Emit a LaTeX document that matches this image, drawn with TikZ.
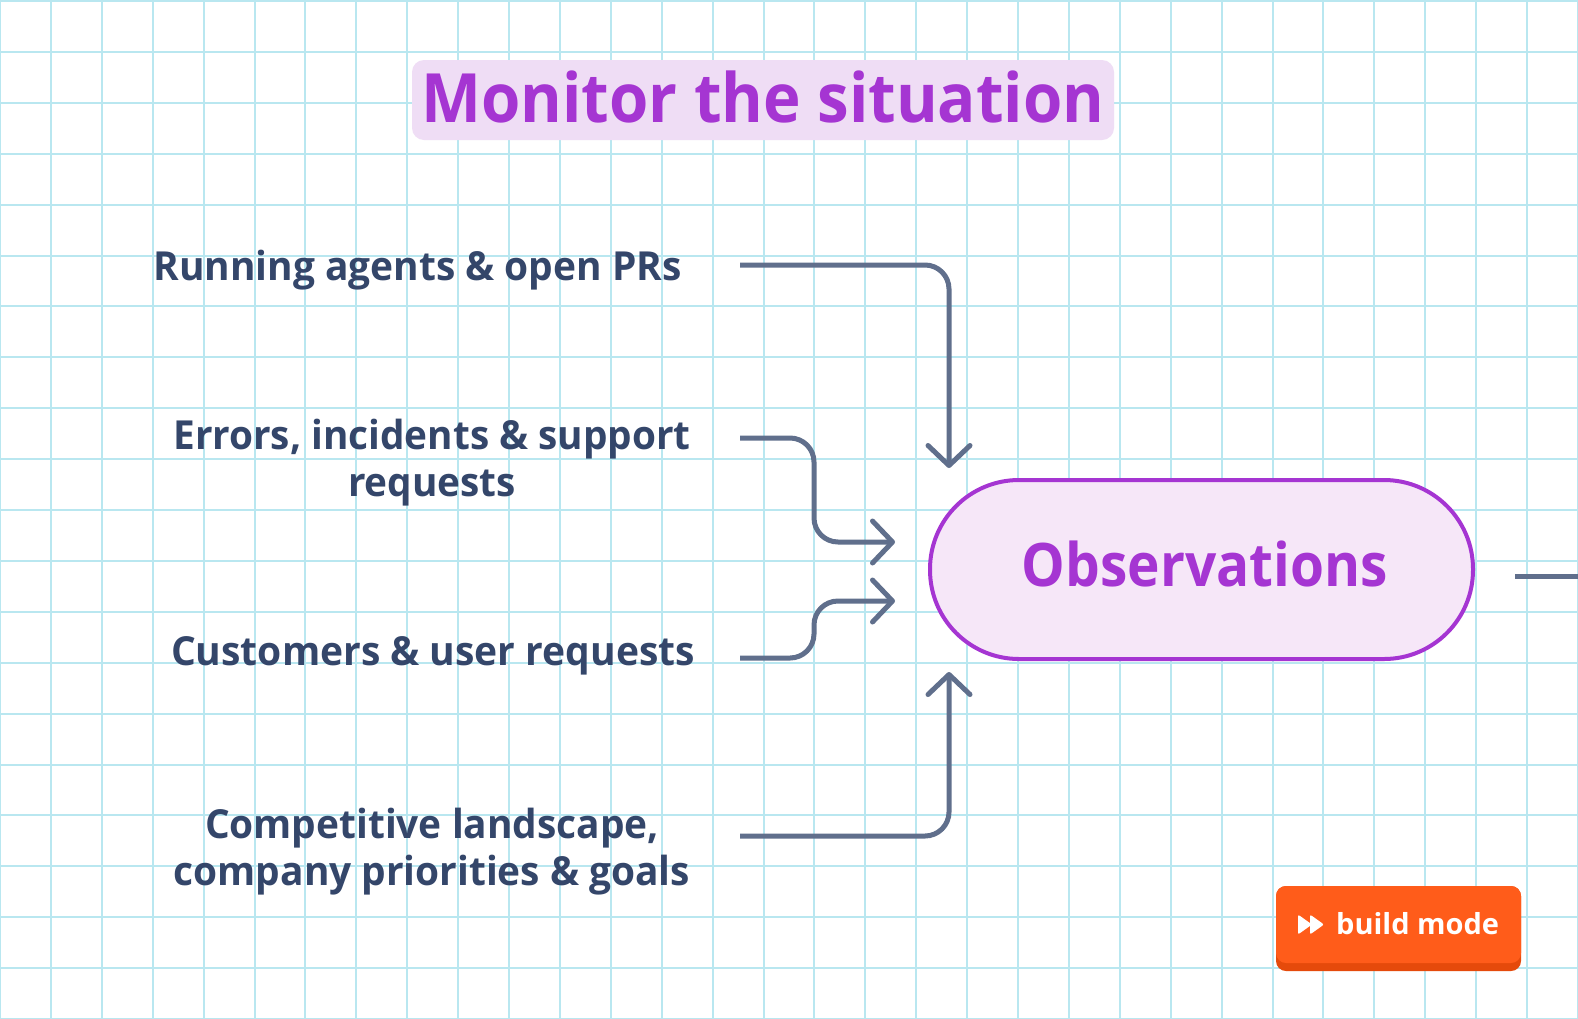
\documentclass[tikz,border=0pt]{standalone}
\usepackage{fontspec}
\usepackage{graphicx}
\usetikzlibrary{arrows.meta}
\IfFontExistsTF{Open Sans SemiBold}
 {\newfontfamily\sbfont{Open Sans SemiBold}}
 {\newfontfamily\sbfontA{Open Sans}\newcommand\sbfont{\sbfontA\bfseries}}
\newfontfamily\btnfont{Open Sans}
\newcommand\hsq[2]{\scalebox{#1}[1]{#2}}
\definecolor{gridc}{HTML}{B9E7F0}
\definecolor{titlefill}{HTML}{EFDDF5}
\definecolor{purp}{HTML}{A535D2}
\definecolor{obsfill}{HTML}{F6E7F8}
\definecolor{conn}{HTML}{606F8C}
\definecolor{labc}{HTML}{34466A}
\definecolor{btn}{HTML}{FF5C1A}
\definecolor{btnsh}{HTML}{E54A0B}
\tikzset{
  lab/.style={text=labc, inner sep=0pt, anchor=base, font=\sbfont\fontsize{40}{47.5}\selectfont},
  conline/.style={draw=conn, line width=5pt, rounded corners=24pt},
  arrowed/.style={conline, -{Straight Barb[length=20pt,width=42pt,line cap=round,line join=round]}},
}
\begin{document}
\begin{tikzpicture}[x=1pt,y=-1pt]
\useasboundingbox (0,0) rectangle (1578,1018);
\fill[white] (0,0) rectangle (1578,1018);
% grid
\foreach \k in {0,...,31}{\draw[gridc, line width=2pt] ({\k*50.903},0) -- ({\k*50.903},1018);}
\foreach \k in {0,...,20}{\draw[gridc, line width=2pt] (0,{1+\k*50.9}) -- (1578,{1+\k*50.9});}
% title
\fill[titlefill, rounded corners=12pt] (412,60) rectangle (1114,140);
\node[text=purp, inner sep=0pt, anchor=base, font=\sbfont\fontsize{68}{70}\selectfont] (title) at (763,122.7) {\hsq{0.935}{Monitor the situation}};
% labels
\node[lab] (l1) at (417.5,280.5) {\hsq{0.972}{Running agents \& open PRs}};
\node[lab] (l2) at (432,449.3) {\hsq{0.968}{\begin{tabular}[t]{@{}c@{}}Errors, incidents \& support\\requests\end{tabular}}};
\node[lab] (l3) at (433,665) {\hsq{0.975}{Customers \& user requests}};
\node[lab] (l4) at (432,838.3) {\hsq{0.971}{\begin{tabular}[t]{@{}c@{}}Competitive landscape,\\company priorities \& goals\end{tabular}}};
% observations
\node[draw=purp, fill=obsfill, line width=4pt, rounded corners=89pt, minimum width=543pt, minimum height=179pt, inner sep=0pt] (obs) at (1201.5,569.5) {};
\node[text=purp, inner sep=0pt, anchor=base, font=\sbfont\fontsize{60}{64}\selectfont] (obst) at (1204.7,586.7) {\hsq{0.916}{Observations}};
% connector coordinates
\coordinate (s1) at (740,265);
\coordinate (s2) at (740,438);
\coordinate (s3) at (740,658);
\coordinate (s4) at (740,836);
\coordinate (t1) at (949,468);
\coordinate (t2) at (895,542);
\coordinate (t3) at (895,601);
\coordinate (t4) at (949,672);
\coordinate (o1) at (1515,576);
\coordinate (o2) at (1580,576);
\draw[arrowed] (s1) -| (t1);
\draw[arrowed] (s2) -- (814,438) -- (814,542) -- (t2);
\draw[arrowed] (s3) -- (814,658) -- (814,601) -- (t3);
\draw[arrowed] (s4) -| (t4);
\draw[conn, line width=5pt] (o1) -- (o2);
% build mode button
\fill[btnsh, rounded corners=10pt] (1276,886) rectangle (1521,971);
\fill[btn, rounded corners=10pt] (1276,886) rectangle (1521,963);
\fill[white, rounded corners=2pt] (1298,914.5) -- (1312,924.5) -- (1298,934.5) -- cycle;
\fill[white, rounded corners=2pt] (1310,914.5) -- (1324,924.5) -- (1310,934.5) -- cycle;
\node[text=white, inner sep=0pt, anchor=base west, font=\btnfont\bfseries\fontsize{29}{32}\selectfont] (btnt) at (1336,934) {build mode};
\end{tikzpicture}
\end{document}
